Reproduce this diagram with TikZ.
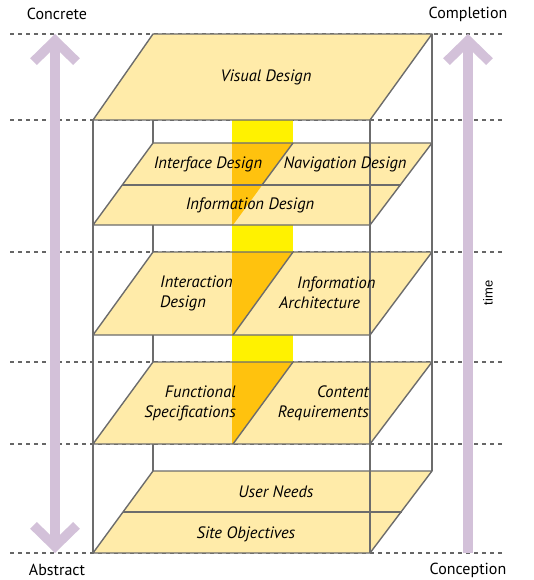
\documentclass[tikz,border=0pt]{standalone}
\usepackage{fontspec}
\setmainfont{PT Sans}
\newfontfamily\timefont{Liberation Sans}
\usetikzlibrary{arrows.meta}
\definecolor{planeFill}{HTML}{FFEBA9}
\definecolor{flowYellow}{HTML}{FFF200}
\definecolor{flowOrange}{HTML}{FFC20E}
\definecolor{edgeGray}{HTML}{6C6C6C}
\definecolor{guideGray}{HTML}{666666}
\definecolor{timeLilac}{HTML}{D3C1D9}

\begin{document}
\begin{tikzpicture}[
    x=1pt, y=-1pt,
    guideLine/.style={draw=guideGray, line width=1.1pt, dash pattern=on 4pt off 4pt},
    boxEdge/.style={draw=edgeGray, line width=1.4pt},
    planeShape/.style={fill=planeFill},
    planeEdge/.style={draw=edgeGray, line width=1.4pt, line join=round},
    flowCut/.style={fill=flowOrange},
    planeLabel/.style={font=\fontsize{16.5}{20}\selectfont\itshape, inner sep=0pt},
    endLabel/.style={font=\fontsize{16}{19}\selectfont, inner sep=0pt},
    timeArrow/.style={draw=timeLilac, line width=9.5pt},
    >={Straight Barb[length=21pt, width=43pt]}
]
    \useasboundingbox (0,0) rectangle (534,580);

    % Level guides
    \foreach \y in {34,120,252,362,444,553}
        \draw[guideLine] (10,\y) -- (503,\y);

    % Flow column behind the planes
    \fill[flowYellow] (232,120) rectangle (293,444);

    % Back edges of the box
    \draw[boxEdge] (153,34) -- (153,471);
    \draw[boxEdge] (432,34) -- (432,471);

    % Surface plane
    \fill[planeShape] (153,34) -- (432,34) -- (370,120) -- (93,120) -- cycle;
    \draw[planeEdge] (153,34) -- (432,34) -- (370,120) -- (93,120) -- cycle;

    % Skeleton plane
    \fill[planeShape] (153,143) -- (432,143) -- (370,225) -- (93,225) -- cycle;
    \fill[flowCut] (232,143) -- (293,143) -- (233,225) -- (232,225) -- cycle;
    \draw[planeEdge] (153,143) -- (432,143) -- (370,225) -- (93,225) -- cycle;
    \draw[planeEdge] (122,185) -- (401,185);
    \draw[planeEdge] (293,143) -- (262,185);

    % Structure plane
    \fill[planeShape] (153,252) -- (432,252) -- (370,335) -- (93,335) -- cycle;
    \fill[flowCut] (232,252) -- (293,252) -- (233,335) -- (232,335) -- cycle;
    \draw[planeEdge] (153,252) -- (432,252) -- (370,335) -- (93,335) -- cycle;
    \draw[planeEdge] (293,252) -- (233,335);

    % Scope plane
    \fill[planeShape] (153,362) -- (432,362) -- (370,444) -- (93,444) -- cycle;
    \fill[flowCut] (232,362) -- (293,362) -- (233,444) -- (232,444) -- cycle;
    \draw[planeEdge] (153,362) -- (432,362) -- (370,444) -- (93,444) -- cycle;
    \draw[planeEdge] (293,362) -- (233,444);

    % Strategy plane
    \fill[planeShape] (153,471) -- (432,471) -- (370,553) -- (93,553) -- cycle;
    \draw[planeEdge] (153,471) -- (432,471) -- (370,553) -- (93,553) -- cycle;
    \draw[planeEdge] (123,512) -- (402,512);

    % Front edges of the box
    \draw[boxEdge] (93,120) -- (93,553);
    \draw[boxEdge] (370,120) -- (370,553);

    % Plane labels
    \node[planeLabel] (visual) at (266,77) {Visual Design};
    \node[planeLabel] (iface)  at (208,164) {Interface Design};
    \node[planeLabel] (navi)   at (345,164) {Navigation Design};
    \node[planeLabel] (infod)  at (250,205) {Information Design};
    \node[planeLabel, align=left, anchor=west]  (interact) at (160,293) {Interaction\\Design};
    \node[planeLabel, align=left, anchor=west]  (infoarch) at (279,293) {\hspace*{18pt}Information\\Architecture};
    \node[planeLabel, align=right, anchor=east] (funcspec) at (236,403) {Functional\\Specifications};
    \node[planeLabel, align=right, anchor=east] (content)  at (369,403) {Content\\Requirements};
    \node[planeLabel] (userneeds) at (276,492) {User Needs};
    \node[planeLabel] (siteobj)   at (246,534) {Site Objectives};

    % Axis labels
    \node[endLabel] (concrete)   at (57,14)  {Concrete};
    \node[endLabel] (abstract)   at (57,570) {Abstract};
    \node[endLabel] (completion) at (468,14)  {Completion};
    \node[endLabel] (conception) at (468,570) {Conception};
    \node[font=\timefont\fontsize{13}{15}\selectfont, rotate=90] (time) at (488,293) {time};

    % Arrows
    \coordinate (absTip) at (55,553);
    \coordinate (conTip) at (55,34);
    \coordinate (startEnd) at (468,553);
    \coordinate (doneTip) at (468,34);
    \draw[timeArrow, <->] (absTip) -- (conTip);
    \draw[timeArrow, ->] (startEnd) -- (doneTip);
\end{tikzpicture}
\end{document}
